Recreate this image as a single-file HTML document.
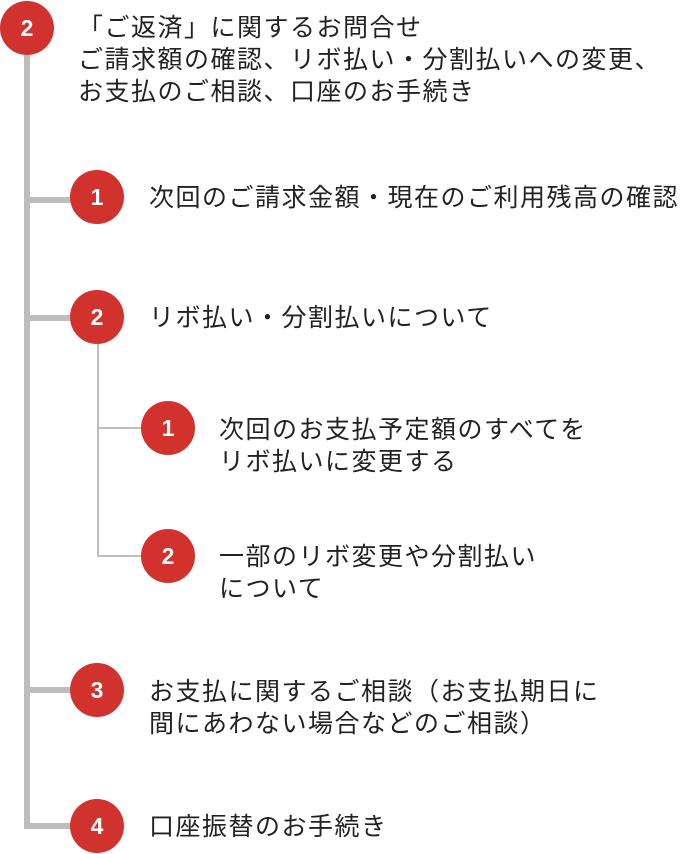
<!DOCTYPE html>
<html><head><meta charset="utf-8"><style>
html,body{margin:0;padding:0;background:#fff;}
body{width:680px;height:854px;position:relative;overflow:hidden;font-family:"Liberation Sans","Noto Sans CJK JP",sans-serif;}
.c{position:absolute;width:54px;height:54px;border-radius:50%;background:#d2322d;color:#fff;font-weight:bold;font-size:23px;line-height:54px;text-align:center;}
.t{position:absolute;font-size:25px;line-height:32px;color:#222;letter-spacing:1.5px;white-space:nowrap;}
.g{position:absolute;background:#bdbdbd;}
</style></head><body>
<div class="g" style="left:24px;top:40px;width:6px;height:789px"></div>
<div class="g" style="left:24px;top:197px;width:50px;height:6px"></div>
<div class="g" style="left:24px;top:315px;width:50px;height:6px"></div>
<div class="g" style="left:24px;top:687px;width:50px;height:6px"></div>
<div class="g" style="left:24px;top:823px;width:50px;height:6px"></div>
<div class="g" style="left:97px;top:330px;width:2px;height:227px"></div>
<div class="g" style="left:97px;top:427px;width:50px;height:2px"></div>
<div class="g" style="left:97px;top:555px;width:50px;height:2px"></div>

<div class="c" style="left:0px;top:1px">2</div>
<div class="c" style="left:70px;top:170px">1</div>
<div class="c" style="left:70px;top:290px">2</div>
<div class="c" style="left:141px;top:401px">1</div>
<div class="c" style="left:141px;top:529px">2</div>
<div class="c" style="left:70px;top:663px">3</div>
<div class="c" style="left:70px;top:799px">4</div>

<div class="t" style="left:78px;top:12px">「ご返済」に関するお問合せ<br>ご請求額の確認、リボ払い・分割払いへの変更、<br>お支払のご相談、口座のお手続き</div>
<div class="t" style="left:149px;top:182px">次回のご請求金額・現在のご利用残高の確認</div>
<div class="t" style="left:149px;top:302px">リボ払い・分割払いについて</div>
<div class="t" style="left:219px;top:414px">次回のお支払予定額のすべてを<br>リボ払いに変更する</div>
<div class="t" style="left:219px;top:541px">一部のリボ変更や分割払い<br>について</div>
<div class="t" style="left:149px;top:676px">お支払に関するご相談（お支払期日に<br>間にあわない場合などのご相談）</div>
<div class="t" style="left:149px;top:811px">口座振替のお手続き</div>
</body></html>
